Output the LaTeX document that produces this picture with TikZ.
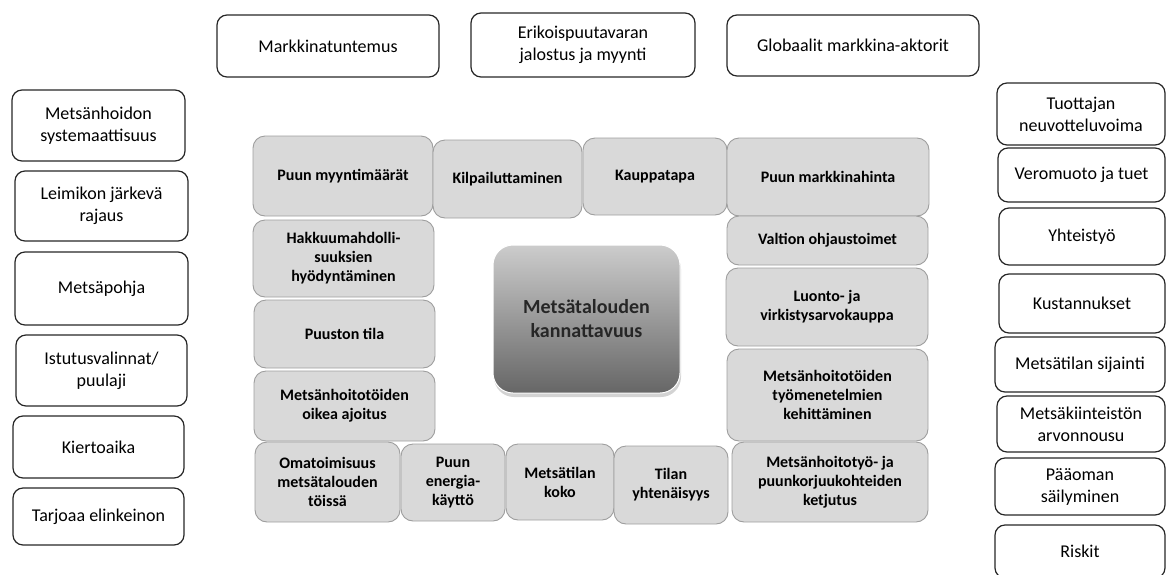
\documentclass[tikz,border=0pt]{standalone}
\usepackage{fontspec}
\setmainfont{Carlito}
\usepackage{tikz}
\usetikzlibrary{positioning,shadows,backgrounds}
\newcommand{\ofont}{\fontsize{18}{22}\selectfont}
\newcommand{\gfont}{\fontsize{16}{19}\selectfont\bfseries}

\begin{document}
\begin{tikzpicture}[x=1pt,y=-1pt,line width=1.2pt]
  \tikzstyle{outer}=[draw=black!85, rounded corners=10pt, align=center,
                     inner sep=0pt, font=\ofont]
  \tikzstyle{grey}=[draw=black!38, fill=black!15, line width=0.9pt,
                    rounded corners=12pt, align=center, inner sep=0pt, font=\gfont]
  \useasboundingbox (0,0) rectangle (1168,574);

  % top row
  \node[outer, minimum width=222, minimum height=62] (T1) at (328,46)   {Markkinatuntemus};
  \node[outer, minimum width=224, minimum height=64] (T2) at (583,45)   {Erikoispuutavaran\\jalostus ja myynti};
  \node[outer, minimum width=252, minimum height=61] (T3) at (853,45.5) {Globaalit markkina-aktorit};

  % left column
  \node[outer, minimum width=173, minimum height=71] (L1) at (98.5,125.5)  {Metsänhoidon\\systemaattisuus};
  \node[outer, minimum width=173, minimum height=70] (L2) at (101.5,206)   {Leimikon järkevä\\rajaus};
  \node[outer, minimum width=173, minimum height=73] (L3) at (101.5,288.5) {Metsäpohja};
  \node[outer, minimum width=171, minimum height=71] (L4) at (101.5,370.5) {Istutusvalinnat/\\puulaji};
  \node[outer, minimum width=171, minimum height=62] (L5) at (98.5,447)    {Kiertoaika};
  \node[outer, minimum width=171, minimum height=57] (L6) at (98.5,516.5)  {Tarjoaa elinkeinon};

  % right column
  \node[outer, minimum width=168, minimum height=62] (R1) at (1081,114)   {Tuottajan\\neuvotteluvoima};
  \node[outer, minimum width=167, minimum height=54] (R2) at (1081.5,175) {Veromuoto ja tuet};
  \node[outer, minimum width=166, minimum height=57] (R3) at (1082,236.5) {Yhteistyö};
  \node[outer, minimum width=166, minimum height=59] (R4) at (1082,303.5) {Kustannukset};
  \node[outer, minimum width=170, minimum height=55] (R5) at (1080,364.5) {Metsätilan sijainti};
  \node[outer, minimum width=168, minimum height=56] (R6) at (1081,424)   {Metsäkiinteistön\\arvonnousu};
  \node[outer, minimum width=170, minimum height=57] (R7) at (1080,486.5) {Pääoman\\säilyminen};
  \node[outer, minimum width=170, minimum height=53] (R8) at (1080,551.5) {Riskit};

  % grey frame
  \node[grey, minimum width=180, minimum height=80] (P1) at (343,176)   {Puun myyntimäärät};
  \node[grey, minimum width=149, minimum height=78] (P2) at (507.5,179) {Kilpailuttaminen};
  \node[grey, minimum width=144, minimum height=77] (P3) at (655,176.5) {Kauppatapa};
  \node[grey, minimum width=202, minimum height=78] (P4) at (828,177)   {Puun markkinahinta};
  \node[grey, minimum width=181, minimum height=77] (P5) at (343.5,258.5) {Hakkuumahdolli-\\suuksien\\hyödyntäminen};
  \node[grey, minimum width=181, minimum height=68] (P6) at (344.5,334)   {Puuston tila};
  \node[grey, minimum width=181, minimum height=70] (P7) at (344.5,406)   {Metsänhoitotöiden\\oikea ajoitus};
  \node[grey, minimum width=145, minimum height=80] (P8) at (327.5,482)   {Omatoimisuus\\metsätalouden\\töissä};
  \node[grey, minimum width=104, minimum height=77] (P9) at (453,482.5)   {Puun\\energia-\\käyttö};
  \node[grey, minimum width=108, minimum height=76] (P10) at (560,482)    {Metsätilan\\koko};
  \node[grey, minimum width=114, minimum height=78] (P11) at (671,485)    {Tilan\\yhtenäisyys};
  \node[grey, minimum width=196, minimum height=80] (P12) at (830,482)    {Metsänhoitotyö- ja\\puunkorjuukohteiden\\ketjutus};
  \node[grey, minimum width=201, minimum height=49] (P13) at (827.5,240.5) {Valtion ohjaustoimet};
  \node[grey, minimum width=202, minimum height=78] (P14) at (827,307)     {Luonto- ja\\virkistysarvokauppa};
  \node[grey, minimum width=201, minimum height=92] (P15) at (827.5,395)   {Metsänhoitotöiden\\työmenetelmien\\kehittäminen};

  % centre
  \node[rounded corners=20pt, minimum width=187, minimum height=148, inner sep=0pt,
        top color=black!20, bottom color=black!60, draw=white, line width=1pt,
        drop shadow={opacity=0.35, shadow xshift=1pt, shadow yshift=-4pt},
        align=center, font=\fontsize{20}{24}\selectfont\bfseries, text=black!85]
        (C) at (586.5,319) {Metsätalouden\\kannattavuus};
\end{tikzpicture}
\end{document}
